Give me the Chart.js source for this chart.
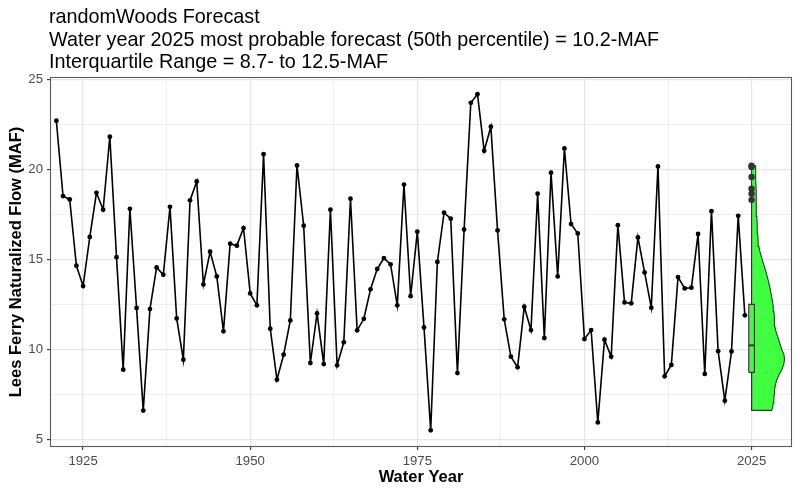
<!DOCTYPE html>
<html>
<head>
<meta charset="utf-8">
<script src="https://cdn.jsdelivr.net/npm/chart.js@4.4.1/dist/chart.umd.min.js"></script>
<style>
html,body{margin:0;padding:0;background:#ffffff;}
#wrap{width:800px;height:494px;}
</style>
</head>
<body>
<div id="wrap"><canvas id="c" width="800" height="494"></canvas></div>
<script>
// ---- data ----
const titleLines = [
  "randomWoods Forecast",
  "Water year 2025 most probable forecast (50th percentile) = 10.2-MAF",
  "Interquartile Range = 8.7- to 12.5-MAF"
];
const years = [
  1921,1922,1923,1924,1925,1926,1927,1928,1929,1930,
  1931,1932,1933,1934,1935,1936,1937,1938,1939,1940,
  1941,1942,1943,1944,1945,1946,1947,1948,1949,1950,
  1951,1952,1953,1954,1955,1956,1957,1958,1959,1960,
  1961,1962,1963,1964,1965,1966,1967,1968,1969,1970,
  1971,1972,1973,1974,1975,1976,1977,1978,1979,1980,
  1981,1982,1983,1984,1985,1986,1987,1988,1989,1990,
  1991,1992,1993,1994,1995,1996,1997,1998,1999,2000,
  2001,2002,2003,2004,2005,2006,2007,2008,2009,2010,
  2011,2012,2013,2014,2015,2016,2017,2018,2019,2020,
  2021,2022,2023,2024
];
const flow = [
  22.72,18.53,18.34,14.65,13.52,16.25,18.71,17.77,21.83,15.13,
  8.87,17.82,12.30,6.59,12.24,14.56,14.15,17.93,11.72,9.42,
  18.29,19.34,13.61,15.43,14.06,11.00,15.88,15.77,16.75,13.11,
  12.45,20.86,11.15,8.31,9.70,11.61,20.23,16.88,9.24,12.00,
  9.18,17.77,9.11,10.39,18.38,11.06,11.70,13.34,14.47,15.08,
  14.73,12.45,19.17,12.96,16.55,11.22,5.49,14.86,17.60,17.27,
  8.68,16.67,23.72,24.20,21.05,22.39,16.62,11.67,9.59,9.00,
  12.37,11.07,18.66,10.63,19.83,14.06,21.18,16.97,16.45,10.57,
  11.07,5.93,10.54,9.59,16.91,12.61,12.56,16.23,14.28,12.32,
  20.18,8.50,9.13,14.02,13.39,13.43,16.42,8.63,17.69,9.90,
  7.14,9.88,17.43,11.89
];
const forecastYear = 2025;
// violin (half, right side): flow level and density width (in years)
const violinFlow    = [6.60,6.74,7.00,7.20,7.50,7.75,8.05,8.31,8.60,8.87,9.15,9.42,9.70,9.98,10.35,10.72,11.00,11.28,11.55,11.83,12.10,12.39,12.65,12.95,13.30,13.69,14.05,14.43,14.80,15.17,15.45,15.73,16.10,16.47,17.00,17.40,17.90,18.32,18.80,19.25,19.75,20.22];
const violinDensity = [2.99,3.14,3.25,3.33,3.38,3.44,3.58,3.78,4.12,4.53,4.80,4.93,4.85,4.53,4.20,3.89,3.64,3.48,3.42,3.39,3.34,3.24,3.13,2.99,2.82,2.59,2.35,2.05,1.75,1.45,1.24,1.09,0.98,0.90,0.84,0.79,0.74,0.70,0.67,0.64,0.62,0.60];
const boxQuartiles = [8.72, 10.22, 12.50];   // Q1, median, Q3
const boxWhiskers  = [6.60, 18.10];          // lower, upper
const outliers     = [20.22, 20.15, 19.59, 18.94, 18.66, 18.32];
const xTickValues  = [1925, 1937.5, 1950, 1962.5, 1975, 1987.5, 2000, 2012.5, 2025];
const yTickValues  = [5, 7.5, 10, 12.5, 15, 17.5, 20, 22.5, 25];

// ---- styles / geometry ----
const boxHalf = 0.42;
const GREEN = 'rgb(64,255,64)';
const DARK = '#333333';
const FONT = '"Liberation Sans", Arial, Helvetica, sans-serif';

const violinPts = [{x: forecastYear, y: violinFlow[0]}]
  .concat(violinFlow.map((v, i) => ({x: forecastYear + violinDensity[i], y: v})))
  .concat([{x: forecastYear, y: violinFlow[violinFlow.length - 1]}, {x: forecastYear, y: violinFlow[0]}]);

const boxPts = [
  {x: forecastYear - boxHalf, y: boxQuartiles[0]},
  {x: forecastYear + boxHalf, y: boxQuartiles[0]},
  {x: forecastYear + boxHalf, y: boxQuartiles[2]},
  {x: forecastYear - boxHalf, y: boxQuartiles[2]},
  {x: forecastYear - boxHalf, y: boxQuartiles[0]}
];

const isMajorX = v => Math.abs(v % 25) < 1e-6;
const isMajorY = v => Math.abs(v % 5) < 1e-6;

const decor = {
  id: 'decor',
  afterDraw(chart) {
    const {ctx, chartArea: a} = chart;
    ctx.save();
    ctx.strokeStyle = '#5a5a5a';
    ctx.lineWidth = 1.1;
    ctx.strokeRect(a.left - 0.5, a.top - 0.5, a.right - a.left + 1, a.bottom - a.top + 1);
    ctx.fillStyle = '#000000';
    ctx.font = '19.8px ' + FONT;
    ctx.textAlign = 'left';
    ctx.textBaseline = 'alphabetic';
    titleLines.forEach((t, i) => ctx.fillText(t, 49, 23 + i * 22.5));
    ctx.restore();
  }
};

new Chart(document.getElementById('c'), {
  type: 'line',
  data: {
    datasets: [
      {
        label: 'flow',
        data: years.map((yr, i) => ({x: yr, y: flow[i]})),
        borderColor: '#000000', borderWidth: 1.6,
        pointRadius: 2.4, pointBackgroundColor: '#000000', pointBorderWidth: 0,
        tension: 0, fill: false, order: 1
      },
      {
        label: 'violin',
        data: violinPts,
        borderColor: DARK, borderWidth: 1.1, backgroundColor: GREEN,
        fill: 'shape', pointRadius: 0, tension: 0, order: 6
      },
      {
        label: 'whiskerUp',
        data: [{x: forecastYear, y: boxQuartiles[2]}, {x: forecastYear, y: boxWhiskers[1]}],
        borderColor: DARK, borderWidth: 1, pointRadius: 0, fill: false, order: 5
      },
      {
        label: 'whiskerLow',
        data: [{x: forecastYear, y: boxQuartiles[0]}, {x: forecastYear, y: boxWhiskers[0]}],
        borderColor: DARK, borderWidth: 1, pointRadius: 0, fill: false, order: 5
      },
      {
        label: 'box',
        data: boxPts,
        borderColor: DARK, borderWidth: 1.1, backgroundColor: GREEN,
        fill: 'shape', pointRadius: 0, tension: 0, order: 4
      },
      {
        label: 'median',
        data: [{x: forecastYear - boxHalf, y: boxQuartiles[1]}, {x: forecastYear + boxHalf, y: boxQuartiles[1]}],
        borderColor: DARK, borderWidth: 2, pointRadius: 0, fill: false, order: 3
      },
      {
        label: 'outliers',
        data: outliers.map(v => ({x: forecastYear, y: v})),
        showLine: false, pointRadius: 3.2, pointBackgroundColor: DARK, pointBorderWidth: 0,
        order: 2
      }
    ]
  },
  options: {
    responsive: false,
    devicePixelRatio: 1,
    animation: false,
    events: [],
    layout: {padding: {top: 78, right: 9, left: 0, bottom: 0}},
    plugins: {legend: {display: false}, tooltip: {enabled: false}, title: {display: false}},
    scales: {
      x: {
        type: 'linear',
        min: 1920.2, max: 2030.9,
        afterBuildTicks: s => { s.ticks = xTickValues.map(v => ({value: v})); },
        afterFit: s => { s.height = 48; },
        border: {display: false},
        grid: {
          color: '#e6e6e6',
          lineWidth: c => (c.tick && isMajorX(c.tick.value)) ? 1.2 : 0.6,
          tickColor: c => (c.tick && isMajorX(c.tick.value)) ? DARK : 'rgba(0,0,0,0)',
          tickWidth: 1.1, tickLength: 4, drawTicks: true
        },
        ticks: {
          autoSkip: false, maxRotation: 0, padding: 3,
          color: '#4d4d4d', font: {family: FONT, size: 13.2},
          callback: v => isMajorX(v) ? String(v) : ''
        },
        title: {
          display: true, text: 'Water Year', color: '#000000',
          font: {family: FONT, size: 16.5, weight: 'bold'},
          padding: {top: 0, bottom: 7}
        }
      },
      y: {
        type: 'linear',
        min: 4.62, max: 25.1,
        afterBuildTicks: s => { s.ticks = yTickValues.map(v => ({value: v})); },
        afterFit: s => { s.width = 51; },
        border: {display: false},
        grid: {
          color: '#e6e6e6',
          lineWidth: c => (c.tick && isMajorY(c.tick.value)) ? 1.2 : 0.6,
          tickColor: c => (c.tick && isMajorY(c.tick.value)) ? DARK : 'rgba(0,0,0,0)',
          tickWidth: 1.1, tickLength: 4, drawTicks: true
        },
        ticks: {
          autoSkip: false, padding: 4,
          color: '#4d4d4d', font: {family: FONT, size: 13.2},
          callback: v => isMajorY(v) ? String(v) : ''
        },
        title: {
          display: true, text: 'Lees Ferry Naturalized Flow (MAF)', color: '#000000',
          font: {family: FONT, size: 16.5, weight: 'bold'},
          padding: {top: 7, bottom: 0}
        }
      }
    }
  },
  plugins: [decor]
});
</script>
</body>
</html>
